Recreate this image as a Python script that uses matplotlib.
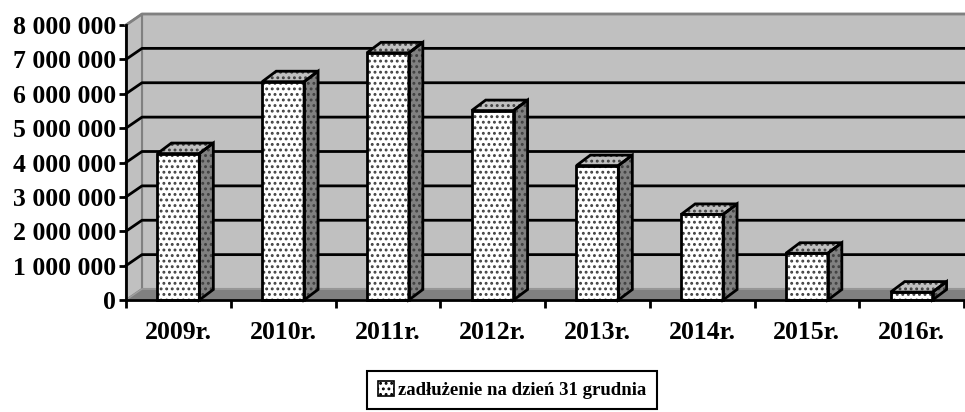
import matplotlib
matplotlib.use("Agg")
import matplotlib.pyplot as plt
from matplotlib.patches import Polygon, Patch

categories = ["2009r.", "2010r.", "2011r.", "2012r.", "2013r.", "2014r.", "2015r.", "2016r."]
values = [4260000, 6350000, 7190000, 5510000, 3910000, 2490000, 1360000, 230000]
yticks = [0, 1000000, 2000000, 3000000, 4000000, 5000000, 6000000, 7000000, 8000000]
series_name = "zadłużenie na dzień 31 grudnia"

plt.rcParams['font.family'] = ['Liberation Serif', 'DejaVu Serif']
plt.rcParams['font.weight'] = 'bold'
plt.rcParams['hatch.linewidth'] = 1.3

W, H = 965, 412
fig = plt.figure(figsize=(W / 100, H / 100), dpi=100)
# front plot area in pixels
px_left, px_right, px_top, px_bottom = 126, 964, 25, 300
ax = fig.add_axes([px_left / W, (H - px_bottom) / H,
                   (px_right - px_left) / W, (px_bottom - px_top) / H])
n = len(categories)
ymax = yticks[-1]
ax.set_xlim(0, n)
ax.set_ylim(0, ymax)
ax.set_facecolor('none')

ux = n / (px_right - px_left)          # data units per pixel (x)
uy = ymax / (px_bottom - px_top)       # data units per pixel (y)
wdx, wdy = 16 * ux, 11 * uy            # wall depth
bdx, bdy = 14 * ux, 10.5 * uy          # bar depth

GRAY = '#c0c0c0'
DARK = '#808080'

# back wall
ax.add_patch(Polygon([(wdx, wdy), (n + wdx, wdy), (n + wdx, ymax + wdy), (wdx, ymax + wdy)],
                     closed=True, facecolor=GRAY, edgecolor=DARK, lw=1.5, clip_on=False, zorder=1))
# side wall
ax.add_patch(Polygon([(0, 0), (wdx, wdy), (wdx, ymax + wdy), (0, ymax)],
                     closed=True, facecolor=GRAY, edgecolor=DARK, lw=1.5, clip_on=False, zorder=1))
# gridlines
for t in yticks[1:-1]:
    ax.plot([0, wdx, n + wdx], [t, t + wdy, t + wdy], color='black', lw=2, clip_on=False, zorder=2)
ax.plot([0, wdx, n + wdx], [ymax, ymax + wdy, ymax + wdy], color=DARK, lw=2, clip_on=False, zorder=2)
# floor
ax.add_patch(Polygon([(0, 0), (n, 0), (n + wdx, wdy), (wdx, wdy)],
                     closed=True, facecolor=DARK, edgecolor='#a0a0a0', lw=1, clip_on=False, zorder=3))

# bars
bw = 0.4
for i, v in enumerate(values):
    c = i + 0.5
    x0, x1 = c - bw / 2, c + bw / 2
    front = [(x0, 0), (x1, 0), (x1, v), (x0, v)]
    side = [(x1, 0), (x1 + bdx, bdy), (x1 + bdx, v + bdy), (x1, v)]
    top = [(x0, v), (x1, v), (x1 + bdx, v + bdy), (x0 + bdx, v + bdy)]
    for poly, fc in ((side, DARK), (top, GRAY), (front, 'white')):
        ax.add_patch(Polygon(poly, closed=True, facecolor=fc, edgecolor='#404040', hatch='...',
                             lw=0, clip_on=False, zorder=4))
        ax.add_patch(Polygon(poly, closed=True, fill=False, edgecolor='black', lw=2,
                             joinstyle='miter', clip_on=False, zorder=5))

# axes
for s in ['top', 'right']:
    ax.spines[s].set_visible(False)
for s in ['left', 'bottom']:
    ax.spines[s].set_color('black')
    ax.spines[s].set_linewidth(2)
    ax.spines[s].set_zorder(6)

ax.set_yticks(yticks)
ax.set_yticklabels([f"{t:,}".replace(",", " ") for t in yticks])
ax.tick_params(axis='y', direction='out', length=5, width=2, labelsize=18.5, pad=2)
ax.set_xticks(range(n + 1))
ax.set_xticklabels([])
ax.tick_params(axis='x', which='major', direction='out', length=6, width=2)
ax.set_xticks([i + 0.5 for i in range(n)], minor=True)
ax.set_xticklabels(categories, minor=True)
ax.tick_params(axis='x', which='minor', length=0, labelsize=18.5, pad=15)
for lab in ax.get_xticklabels(minor=True) + ax.get_yticklabels():
    lab.set_fontweight('bold')

handle = Patch(facecolor='white', edgecolor='black', hatch='...', lw=1.2)
leg = fig.legend([handle], [series_name], loc='center', bbox_to_anchor=(512 / W, 1 - 390 / H),
                 frameon=True, fancybox=False, edgecolor='black', framealpha=1,
                 prop={'size': 13.5, 'weight': 'bold'}, handlelength=0.9, handleheight=0.9,
                 handletextpad=0.2, borderpad=0.55, borderaxespad=0)
leg.get_frame().set_linewidth(1.5)

fig.savefig("out.png", dpi=100)
